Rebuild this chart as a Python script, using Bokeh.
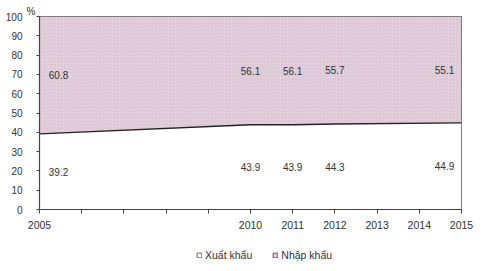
from bokeh.plotting import figure
from bokeh.layouts import column
from bokeh.models import (Range1d, FixedTicker, Legend, LegendItem,
                          ColumnDataSource)
from bokeh.core.properties import value
from bokeh.embed import file_html
from bokeh.resources import INLINE

# ---- data ----
years = [2005, 2010, 2011, 2012, 2015]
xuat_khau = [39.2, 43.9, 43.9, 44.3, 44.9]
nhap_khau = [60.8, 56.1, 56.1, 55.7, 55.1]
tick_years = list(range(2005, 2016))
shown_year_labels = ["2005", "2010", "2011", "2012", "2013", "2014", "2015"]
y_ticks = [0, 10, 20, 30, 40, 50, 60, 70, 80, 90, 100]
series_names = ["Xuất khẩu", "Nhập khẩu"]
unit_text = "%"

# ---- styles ----
FONT = "Liberation Sans"
TXT = "#333333"
PINK = "#eddde7"
HATCH = "#c2a3b5"
label_x_offsets = [19, 0, 0, 0, -17]

p = figure(width=485, height=240, output_backend="svg", toolbar_location=None,
           x_range=Range1d(2005, 2015), y_range=Range1d(0, 100),
           min_border_left=39, min_border_right=24, min_border_top=16,
           min_border_bottom=31)
p.xgrid.visible = False
p.ygrid.visible = False
p.outline_line_color = "#555555"
p.outline_line_width = 1
p.background_fill_color = "white"
p.border_fill_color = "white"

p.title.text = unit_text
p.title.align = "left"
p.title.offset = -13
p.title.standoff = 0
p.title.vertical_align = "bottom"
p.title.text_baseline = "top"
p.title.text_font = FONT
p.title.text_font_size = "10px"
p.title.text_font_style = "normal"
p.title.text_color = TXT

tops = [a + b for a, b in zip(xuat_khau, nhap_khau)]
src = ColumnDataSource(dict(x=years, xk=xuat_khau, top=tops,
                            zero=[0] * len(years)))

p.varea(x="x", y1="xk", y2="top", source=src, fill_color=PINK,
        hatch_pattern="/", hatch_color=HATCH, hatch_scale=3.5, hatch_weight=0.6)
p.varea(x="x", y1="zero", y2="xk", source=src, fill_color="white")
p.line(x="x", y="xk", source=src, line_color="#222222", line_width=1.4)

# value labels at middle of each band
lab = ColumnDataSource(dict(
    x=years + years,
    y=[v / 2 for v in xuat_khau] + [a + b / 2 for a, b in zip(xuat_khau, nhap_khau)],
    t=[f"{v:.1f}" for v in xuat_khau] + [f"{v:.1f}" for v in nhap_khau],
    dx=label_x_offsets + label_x_offsets))
p.text(x="x", y="y", text="t", x_offset="dx", source=lab,
       text_font=value(FONT), text_font_size="10px", text_color=TXT,
       text_align="center", text_baseline="middle")

# axes
xa = p.xaxis[0]
xa.ticker = FixedTicker(ticks=tick_years)
xa.major_label_overrides = {y: (str(y) if str(y) in shown_year_labels else "")
                            for y in tick_years}
xa.major_tick_out = 4
xa.major_tick_in = 0
xa.minor_tick_line_color = None
xa.axis_line_color = "#444444"
xa.axis_line_width = 1.2
xa.major_tick_line_color = "#444444"
xa.major_label_text_font = FONT
xa.major_label_text_font_size = "10.5px"
xa.major_label_text_color = TXT
xa.major_label_standoff = 7

ya = p.yaxis[0]
ya.ticker = FixedTicker(ticks=y_ticks)
ya.major_tick_out = 3
ya.major_tick_in = 0
ya.minor_tick_line_color = None
ya.axis_line_color = "#444444"
ya.axis_line_width = 1.2
ya.major_tick_line_color = "#444444"
ya.major_label_text_font = FONT
ya.major_label_text_font_size = "10px"
ya.major_label_text_color = TXT
ya.major_label_standoff = 14

# legend strip
p2 = figure(width=485, height=31, output_backend="svg", toolbar_location=None,
            x_range=Range1d(0, 1), y_range=Range1d(0, 1),
            min_border_left=0, min_border_right=0, min_border_top=0,
            min_border_bottom=0)
p2.axis.visible = False
p2.grid.visible = False
p2.outline_line_color = None
nan = float("nan")
r1 = p2.rect(x=[nan], y=[nan], width=[1], height=[1],
             fill_color="white", line_color="#444444", line_width=0.8)
r2 = p2.rect(x=[nan], y=[nan], width=[1], height=[1],
             fill_color=PINK, line_color="#444444", line_width=0.8,
             hatch_pattern="/", hatch_color=HATCH, hatch_scale=3,
             hatch_weight=0.7)
legend = Legend(items=[LegendItem(label=series_names[0], renderers=[r1]),
                       LegendItem(label=series_names[1], renderers=[r2])],
                orientation="horizontal", location=(157, 10),
                padding=0, margin=0, spacing=20, label_standoff=3,
                glyph_width=6, glyph_height=6, label_height=10,
                label_text_font=FONT, label_text_font_size="10.5px",
                label_text_color=TXT, background_fill_alpha=0,
                border_line_color=None)
p2.add_layout(legend, "center")

layout = column(p, p2, spacing=0)
open("out.html", "w").write(file_html(layout, INLINE))
